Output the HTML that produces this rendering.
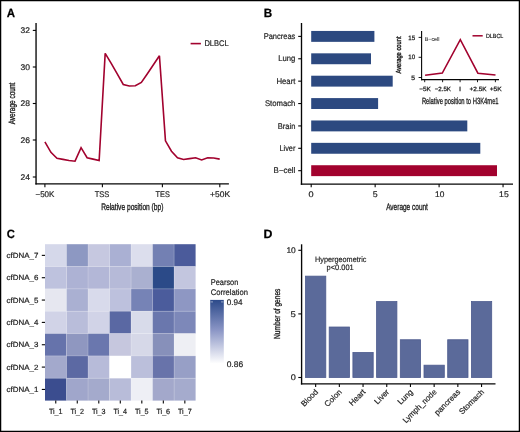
<!DOCTYPE html>
<html><head><meta charset="utf-8"><style>
html,body{margin:0;padding:0;background:#fff;}
body{width:520px;height:432px;overflow:hidden;}
svg{display:block;will-change:transform;text-rendering:geometricPrecision;font-family:"Liberation Sans",sans-serif;}
</style></head><body>
<svg width="520" height="432" viewBox="0 0 520 432">
<rect x="0" y="0" width="520" height="432" fill="#fff"/>
<text x="6.77" y="17.10" font-size="12" textLength="8.32" lengthAdjust="spacingAndGlyphs" fill="#000" stroke="#000" stroke-width="0.25" font-weight="bold">A</text>
<line x1="36.05" y1="23.00" x2="36.05" y2="184.60" stroke="#050505" stroke-width="1.35"/>
<line x1="35.40" y1="183.90" x2="228.90" y2="183.90" stroke="#050505" stroke-width="1.35"/>
<line x1="32.80" y1="30.40" x2="36.00" y2="30.40" stroke="#050505" stroke-width="1.1"/>
<text x="20.60" y="33.00" font-size="8.2" textLength="9.39" lengthAdjust="spacingAndGlyphs" fill="#1e1e1e" stroke="#1e1e1e" stroke-width="0.2">32</text>
<line x1="32.80" y1="67.00" x2="36.00" y2="67.00" stroke="#050505" stroke-width="1.1"/>
<text x="20.50" y="69.60" font-size="8.2" textLength="9.49" lengthAdjust="spacingAndGlyphs" fill="#1e1e1e" stroke="#1e1e1e" stroke-width="0.2">30</text>
<line x1="32.80" y1="103.50" x2="36.00" y2="103.50" stroke="#050505" stroke-width="1.1"/>
<text x="20.50" y="106.10" font-size="8.2" textLength="9.49" lengthAdjust="spacingAndGlyphs" fill="#1e1e1e" stroke="#1e1e1e" stroke-width="0.2">28</text>
<line x1="32.80" y1="140.00" x2="36.00" y2="140.00" stroke="#050505" stroke-width="1.1"/>
<text x="20.50" y="142.60" font-size="8.2" textLength="9.49" lengthAdjust="spacingAndGlyphs" fill="#1e1e1e" stroke="#1e1e1e" stroke-width="0.2">26</text>
<line x1="32.80" y1="177.00" x2="36.00" y2="177.00" stroke="#050505" stroke-width="1.1"/>
<text x="20.50" y="179.60" font-size="8.2" textLength="9.49" lengthAdjust="spacingAndGlyphs" fill="#1e1e1e" stroke="#1e1e1e" stroke-width="0.2">24</text>
<line x1="44.90" y1="184.00" x2="44.90" y2="187.20" stroke="#050505" stroke-width="1.1"/>
<text x="35.50" y="197.30" font-size="8.2" textLength="18.89" lengthAdjust="spacingAndGlyphs" fill="#1e1e1e" stroke="#1e1e1e" stroke-width="0.2">−50K</text>
<line x1="102.40" y1="184.00" x2="102.40" y2="187.20" stroke="#050505" stroke-width="1.1"/>
<text x="94.70" y="197.30" font-size="8.2" textLength="14.69" lengthAdjust="spacingAndGlyphs" fill="#1e1e1e" stroke="#1e1e1e" stroke-width="0.2">TSS</text>
<line x1="162.40" y1="184.00" x2="162.40" y2="187.20" stroke="#050505" stroke-width="1.1"/>
<text x="155.50" y="197.30" font-size="8.2" textLength="14.29" lengthAdjust="spacingAndGlyphs" fill="#1e1e1e" stroke="#1e1e1e" stroke-width="0.2">TES</text>
<line x1="219.80" y1="184.00" x2="219.80" y2="187.20" stroke="#050505" stroke-width="1.1"/>
<text x="210.10" y="197.30" font-size="8.2" textLength="19.99" lengthAdjust="spacingAndGlyphs" fill="#1e1e1e" stroke="#1e1e1e" stroke-width="0.2">+50K</text>
<text x="101.16" y="210.20" font-size="9.4" textLength="62.26" lengthAdjust="spacingAndGlyphs" fill="#1e1e1e" stroke="#1e1e1e" stroke-width="0.35">Relative position (bp)</text>
<text x="15.10" y="103.50" font-size="9.2" text-anchor="middle" textLength="41.70" lengthAdjust="spacingAndGlyphs" fill="#1e1e1e" transform="rotate(-90 15.10 103.50)" stroke="#1e1e1e" stroke-width="0.35">Average count</text>
<polyline points="44.90,141.80 50.93,152.30 56.96,158.20 62.98,159.40 69.01,160.50 75.04,161.20 81.07,147.70 87.10,157.70 93.12,159.10 99.15,160.50 105.18,53.40 111.21,63.30 117.24,73.80 123.26,84.50 129.29,86.00 135.32,85.70 141.35,82.50 147.38,73.80 153.40,64.80 159.43,55.80 165.46,140.80 171.49,151.20 177.52,157.70 183.54,159.50 189.57,158.60 195.60,157.80 201.63,160.00 207.66,157.80 213.68,158.00 219.71,159.10" fill="none" stroke="#a2022e" stroke-width="1.6" stroke-linejoin="miter" stroke-miterlimit="3"/>
<line x1="190.60" y1="43.60" x2="200.90" y2="43.60" stroke="#a2022e" stroke-width="1.6"/>
<text x="204.40" y="45.90" font-size="8.2" textLength="24.29" lengthAdjust="spacingAndGlyphs" fill="#1e1e1e" stroke="#1e1e1e" stroke-width="0.2">DLBCL</text>
<text x="263.87" y="17.10" font-size="12" textLength="8.42" lengthAdjust="spacingAndGlyphs" fill="#000" stroke="#000" stroke-width="0.25" font-weight="bold">B</text>
<line x1="301.50" y1="23.00" x2="301.50" y2="184.80" stroke="#050505" stroke-width="1.35"/>
<line x1="300.80" y1="184.15" x2="513.00" y2="184.15" stroke="#050505" stroke-width="1.35"/>
<rect x="311.20" y="30.95" width="63.20" height="10.90" fill="#2c4980"/>
<line x1="298.20" y1="36.40" x2="301.30" y2="36.40" stroke="#050505" stroke-width="1.1"/>
<text x="263.70" y="39.00" font-size="8.2" textLength="31.69" lengthAdjust="spacingAndGlyphs" fill="#1e1e1e" stroke="#1e1e1e" stroke-width="0.2">Pancreas</text>
<rect x="311.20" y="53.33" width="59.80" height="10.90" fill="#2c4980"/>
<line x1="298.20" y1="58.78" x2="301.30" y2="58.78" stroke="#050505" stroke-width="1.1"/>
<text x="278.20" y="61.38" font-size="8.2" textLength="17.19" lengthAdjust="spacingAndGlyphs" fill="#1e1e1e" stroke="#1e1e1e" stroke-width="0.2">Lung</text>
<rect x="311.20" y="75.71" width="81.50" height="10.90" fill="#2c4980"/>
<line x1="298.20" y1="81.16" x2="301.30" y2="81.16" stroke="#050505" stroke-width="1.1"/>
<text x="276.40" y="83.76" font-size="8.2" textLength="18.99" lengthAdjust="spacingAndGlyphs" fill="#1e1e1e" stroke="#1e1e1e" stroke-width="0.2">Heart</text>
<rect x="311.20" y="98.09" width="66.90" height="10.90" fill="#2c4980"/>
<line x1="298.20" y1="103.54" x2="301.30" y2="103.54" stroke="#050505" stroke-width="1.1"/>
<text x="264.90" y="106.14" font-size="8.2" textLength="30.49" lengthAdjust="spacingAndGlyphs" fill="#1e1e1e" stroke="#1e1e1e" stroke-width="0.2">Stomach</text>
<rect x="311.20" y="120.47" width="156.10" height="10.90" fill="#2c4980"/>
<line x1="298.20" y1="125.92" x2="301.30" y2="125.92" stroke="#050505" stroke-width="1.1"/>
<text x="277.70" y="128.52" font-size="8.2" textLength="17.69" lengthAdjust="spacingAndGlyphs" fill="#1e1e1e" stroke="#1e1e1e" stroke-width="0.2">Brain</text>
<rect x="311.20" y="142.85" width="169.10" height="10.90" fill="#2c4980"/>
<line x1="298.20" y1="148.30" x2="301.30" y2="148.30" stroke="#050505" stroke-width="1.1"/>
<text x="279.50" y="150.90" font-size="8.2" textLength="15.89" lengthAdjust="spacingAndGlyphs" fill="#1e1e1e" stroke="#1e1e1e" stroke-width="0.2">Liver</text>
<rect x="311.20" y="165.23" width="185.80" height="10.90" fill="#a2022e"/>
<line x1="298.20" y1="170.68" x2="301.30" y2="170.68" stroke="#050505" stroke-width="1.1"/>
<text x="273.60" y="173.28" font-size="8.2" textLength="21.79" lengthAdjust="spacingAndGlyphs" fill="#1e1e1e" stroke="#1e1e1e" stroke-width="0.2">B−cell</text>
<line x1="311.20" y1="184.00" x2="311.20" y2="187.20" stroke="#050505" stroke-width="1.1"/>
<text x="308.60" y="197.30" font-size="8.2" textLength="5.09" lengthAdjust="spacingAndGlyphs" fill="#1e1e1e" stroke="#1e1e1e" stroke-width="0.2">0</text>
<line x1="375.15" y1="184.00" x2="375.15" y2="187.20" stroke="#050505" stroke-width="1.1"/>
<text x="372.70" y="197.30" font-size="8.2" textLength="4.89" lengthAdjust="spacingAndGlyphs" fill="#1e1e1e" stroke="#1e1e1e" stroke-width="0.2">5</text>
<line x1="439.10" y1="184.00" x2="439.10" y2="187.20" stroke="#050505" stroke-width="1.1"/>
<text x="435.10" y="197.30" font-size="8.2" textLength="9.29" lengthAdjust="spacingAndGlyphs" fill="#1e1e1e" stroke="#1e1e1e" stroke-width="0.2">10</text>
<line x1="503.05" y1="184.00" x2="503.05" y2="187.20" stroke="#050505" stroke-width="1.1"/>
<text x="499.10" y="197.30" font-size="8.2" textLength="9.59" lengthAdjust="spacingAndGlyphs" fill="#1e1e1e" stroke="#1e1e1e" stroke-width="0.2">15</text>
<text x="386.15" y="210.00" font-size="9.6" textLength="41.78" lengthAdjust="spacingAndGlyphs" fill="#1e1e1e" stroke="#1e1e1e" stroke-width="0.35">Average count</text>
<line x1="421.60" y1="31.00" x2="421.60" y2="80.20" stroke="#050505" stroke-width="1.1"/>
<line x1="421.00" y1="79.60" x2="499.00" y2="79.60" stroke="#050505" stroke-width="1.2"/>
<line x1="418.60" y1="37.40" x2="421.60" y2="37.40" stroke="#050505" stroke-width="0.9"/>
<text x="408.27" y="39.50" font-size="6.3" textLength="6.88" lengthAdjust="spacingAndGlyphs" fill="#1e1e1e" stroke="#1e1e1e" stroke-width="0.25">15</text>
<line x1="418.60" y1="57.30" x2="421.60" y2="57.30" stroke="#050505" stroke-width="0.9"/>
<text x="408.27" y="59.40" font-size="6.3" textLength="6.88" lengthAdjust="spacingAndGlyphs" fill="#1e1e1e" stroke="#1e1e1e" stroke-width="0.25">10</text>
<line x1="418.60" y1="77.50" x2="421.60" y2="77.50" stroke="#050505" stroke-width="0.9"/>
<text x="411.37" y="79.60" font-size="6.3" textLength="3.78" lengthAdjust="spacingAndGlyphs" fill="#1e1e1e" stroke="#1e1e1e" stroke-width="0.25">5</text>
<line x1="424.70" y1="79.60" x2="424.70" y2="82.20" stroke="#050505" stroke-width="0.9"/>
<text x="419.18" y="91.30" font-size="6.1" textLength="11.67" lengthAdjust="spacingAndGlyphs" fill="#1e1e1e" stroke="#1e1e1e" stroke-width="0.25">−5K</text>
<line x1="442.60" y1="79.60" x2="442.60" y2="82.20" stroke="#050505" stroke-width="0.9"/>
<text x="434.68" y="91.30" font-size="6.1" textLength="16.27" lengthAdjust="spacingAndGlyphs" fill="#1e1e1e" stroke="#1e1e1e" stroke-width="0.25">−2.5K</text>
<line x1="460.10" y1="79.60" x2="460.10" y2="82.20" stroke="#050505" stroke-width="0.9"/>
<text x="459.08" y="91.30" font-size="6.1" textLength="2.07" lengthAdjust="spacingAndGlyphs" fill="#1e1e1e" stroke="#1e1e1e" stroke-width="0.25">I</text>
<line x1="477.50" y1="79.60" x2="477.50" y2="82.20" stroke="#050505" stroke-width="0.9"/>
<text x="469.58" y="91.30" font-size="6.1" textLength="17.07" lengthAdjust="spacingAndGlyphs" fill="#1e1e1e" stroke="#1e1e1e" stroke-width="0.25">+2.5K</text>
<line x1="495.40" y1="79.60" x2="495.40" y2="82.20" stroke="#050505" stroke-width="0.9"/>
<text x="489.68" y="91.30" font-size="6.1" textLength="12.07" lengthAdjust="spacingAndGlyphs" fill="#1e1e1e" stroke="#1e1e1e" stroke-width="0.25">+5K</text>
<text x="421.88" y="103.50" font-size="9.0" textLength="76.74" lengthAdjust="spacingAndGlyphs" fill="#1e1e1e" stroke="#1e1e1e" stroke-width="0.32">Relative position to H3K4me1</text>
<text x="401.30" y="55.00" font-size="7.4" text-anchor="middle" textLength="37.10" lengthAdjust="spacingAndGlyphs" fill="#1e1e1e" transform="rotate(-90 401.30 55.00)" stroke="#1e1e1e" stroke-width="0.4">Average count</text>
<polyline points="425.10,75.30 442.30,73.10 460.30,39.60 477.90,73.20 495.50,75.10" fill="none" stroke="#a2022e" stroke-width="1.55" stroke-linejoin="miter" stroke-miterlimit="3"/>
<line x1="472.50" y1="35.80" x2="482.70" y2="35.80" stroke="#a2022e" stroke-width="1.5"/>
<text x="485.88" y="37.90" font-size="6.0" textLength="17.46" lengthAdjust="spacingAndGlyphs" fill="#1e1e1e" stroke="#1e1e1e" stroke-width="0.22">DLBCL</text>
<text x="424.70" y="40.90" font-size="5.6" textLength="14.84" lengthAdjust="spacingAndGlyphs" fill="#1e1e1e" stroke="#1e1e1e" stroke-width="0.05">B−cell</text>
<text x="6.77" y="238.20" font-size="12" textLength="8.12" lengthAdjust="spacingAndGlyphs" fill="#000" stroke="#000" stroke-width="0.25" font-weight="bold">C</text>
<rect x="45.00" y="244.20" width="21.51" height="22.34" fill="#d5d8ea"/>
<rect x="66.51" y="244.20" width="21.51" height="22.34" fill="#8d98c2"/>
<rect x="88.03" y="244.20" width="21.51" height="22.34" fill="#c6c8e0"/>
<rect x="109.54" y="244.20" width="21.51" height="22.34" fill="#aab0d3"/>
<rect x="131.06" y="244.20" width="21.51" height="22.34" fill="#dcdeed"/>
<rect x="152.57" y="244.20" width="21.51" height="22.34" fill="#7380b3"/>
<rect x="174.09" y="244.20" width="21.51" height="22.34" fill="#4b5b9b"/>
<rect x="45.00" y="266.54" width="21.51" height="22.34" fill="#bec2de"/>
<rect x="66.51" y="266.54" width="21.51" height="22.34" fill="#adb2d4"/>
<rect x="88.03" y="266.54" width="21.51" height="22.34" fill="#b3b7d7"/>
<rect x="109.54" y="266.54" width="21.51" height="22.34" fill="#b6bad8"/>
<rect x="131.06" y="266.54" width="21.51" height="22.34" fill="#aab0d0"/>
<rect x="152.57" y="266.54" width="21.51" height="22.34" fill="#2b4a88"/>
<rect x="174.09" y="266.54" width="21.51" height="22.34" fill="#c3c6df"/>
<rect x="45.00" y="288.89" width="21.51" height="22.34" fill="#e6e7f0"/>
<rect x="66.51" y="288.89" width="21.51" height="22.34" fill="#aab0d2"/>
<rect x="88.03" y="288.89" width="21.51" height="22.34" fill="#d8daeb"/>
<rect x="109.54" y="288.89" width="21.51" height="22.34" fill="#bdc1dd"/>
<rect x="131.06" y="288.89" width="21.51" height="22.34" fill="#7683b6"/>
<rect x="152.57" y="288.89" width="21.51" height="22.34" fill="#4b5c9c"/>
<rect x="174.09" y="288.89" width="21.51" height="22.34" fill="#8e97c3"/>
<rect x="45.00" y="311.23" width="21.51" height="22.34" fill="#d1d3e7"/>
<rect x="66.51" y="311.23" width="21.51" height="22.34" fill="#b9bdda"/>
<rect x="88.03" y="311.23" width="21.51" height="22.34" fill="#d1d3e7"/>
<rect x="109.54" y="311.23" width="21.51" height="22.34" fill="#5a68a3"/>
<rect x="131.06" y="311.23" width="21.51" height="22.34" fill="#d8dbea"/>
<rect x="152.57" y="311.23" width="21.51" height="22.34" fill="#6a77ad"/>
<rect x="174.09" y="311.23" width="21.51" height="22.34" fill="#7d88b9"/>
<rect x="45.00" y="333.57" width="21.51" height="22.34" fill="#6673ab"/>
<rect x="66.51" y="333.57" width="21.51" height="22.34" fill="#8f97c0"/>
<rect x="88.03" y="333.57" width="21.51" height="22.34" fill="#6a77ae"/>
<rect x="109.54" y="333.57" width="21.51" height="22.34" fill="#c6c7de"/>
<rect x="131.06" y="333.57" width="21.51" height="22.34" fill="#d6d8e8"/>
<rect x="152.57" y="333.57" width="21.51" height="22.34" fill="#8790ba"/>
<rect x="174.09" y="333.57" width="21.51" height="22.34" fill="#eeeff4"/>
<rect x="45.00" y="355.91" width="21.51" height="22.34" fill="#a3a9cc"/>
<rect x="66.51" y="355.91" width="21.51" height="22.34" fill="#5c69a3"/>
<rect x="88.03" y="355.91" width="21.51" height="22.34" fill="#b7bbd9"/>
<rect x="109.54" y="355.91" width="21.51" height="22.34" fill="#ffffff"/>
<rect x="131.06" y="355.91" width="21.51" height="22.34" fill="#bbbfdb"/>
<rect x="152.57" y="355.91" width="21.51" height="22.34" fill="#6873aa"/>
<rect x="174.09" y="355.91" width="21.51" height="22.34" fill="#979fc6"/>
<rect x="45.00" y="378.26" width="21.51" height="22.34" fill="#3b4d8f"/>
<rect x="66.51" y="378.26" width="21.51" height="22.34" fill="#a0a6cb"/>
<rect x="88.03" y="378.26" width="21.51" height="22.34" fill="#a4aacc"/>
<rect x="109.54" y="378.26" width="21.51" height="22.34" fill="#b8bcd9"/>
<rect x="131.06" y="378.26" width="21.51" height="22.34" fill="#eeeff5"/>
<rect x="152.57" y="378.26" width="21.51" height="22.34" fill="#a3a8cb"/>
<rect x="174.09" y="378.26" width="21.51" height="22.34" fill="#a5abcd"/>
<line x1="66.51" y1="244.20" x2="66.51" y2="400.60" stroke="rgba(255,255,255,0.3)" stroke-width="0.6"/>
<line x1="88.03" y1="244.20" x2="88.03" y2="400.60" stroke="rgba(255,255,255,0.3)" stroke-width="0.6"/>
<line x1="109.54" y1="244.20" x2="109.54" y2="400.60" stroke="rgba(255,255,255,0.3)" stroke-width="0.6"/>
<line x1="131.06" y1="244.20" x2="131.06" y2="400.60" stroke="rgba(255,255,255,0.3)" stroke-width="0.6"/>
<line x1="152.57" y1="244.20" x2="152.57" y2="400.60" stroke="rgba(255,255,255,0.3)" stroke-width="0.6"/>
<line x1="174.09" y1="244.20" x2="174.09" y2="400.60" stroke="rgba(255,255,255,0.3)" stroke-width="0.6"/>
<line x1="45.00" y1="266.54" x2="195.60" y2="266.54" stroke="rgba(255,255,255,0.3)" stroke-width="0.6"/>
<line x1="45.00" y1="288.89" x2="195.60" y2="288.89" stroke="rgba(255,255,255,0.3)" stroke-width="0.6"/>
<line x1="45.00" y1="311.23" x2="195.60" y2="311.23" stroke="rgba(255,255,255,0.3)" stroke-width="0.6"/>
<line x1="45.00" y1="333.57" x2="195.60" y2="333.57" stroke="rgba(255,255,255,0.3)" stroke-width="0.6"/>
<line x1="45.00" y1="355.91" x2="195.60" y2="355.91" stroke="rgba(255,255,255,0.3)" stroke-width="0.6"/>
<line x1="45.00" y1="378.26" x2="195.60" y2="378.26" stroke="rgba(255,255,255,0.3)" stroke-width="0.6"/>
<line x1="41.80" y1="255.37" x2="45.00" y2="255.37" stroke="#050505" stroke-width="1.1"/>
<text x="6.63" y="258.07" font-size="7.5" textLength="31.75" lengthAdjust="spacingAndGlyphs" fill="#1e1e1e" stroke="#1e1e1e" stroke-width="0.2">cfDNA_7</text>
<line x1="41.80" y1="277.71" x2="45.00" y2="277.71" stroke="#050505" stroke-width="1.1"/>
<text x="6.63" y="280.41" font-size="7.5" textLength="31.75" lengthAdjust="spacingAndGlyphs" fill="#1e1e1e" stroke="#1e1e1e" stroke-width="0.2">cfDNA_6</text>
<line x1="41.80" y1="300.06" x2="45.00" y2="300.06" stroke="#050505" stroke-width="1.1"/>
<text x="6.63" y="302.76" font-size="7.5" textLength="31.75" lengthAdjust="spacingAndGlyphs" fill="#1e1e1e" stroke="#1e1e1e" stroke-width="0.2">cfDNA_5</text>
<line x1="41.80" y1="322.40" x2="45.00" y2="322.40" stroke="#050505" stroke-width="1.1"/>
<text x="6.63" y="325.10" font-size="7.5" textLength="31.75" lengthAdjust="spacingAndGlyphs" fill="#1e1e1e" stroke="#1e1e1e" stroke-width="0.2">cfDNA_4</text>
<line x1="41.80" y1="344.74" x2="45.00" y2="344.74" stroke="#050505" stroke-width="1.1"/>
<text x="6.63" y="347.44" font-size="7.5" textLength="31.75" lengthAdjust="spacingAndGlyphs" fill="#1e1e1e" stroke="#1e1e1e" stroke-width="0.2">cfDNA_3</text>
<line x1="41.80" y1="367.09" x2="45.00" y2="367.09" stroke="#050505" stroke-width="1.1"/>
<text x="6.63" y="369.79" font-size="7.5" textLength="31.75" lengthAdjust="spacingAndGlyphs" fill="#1e1e1e" stroke="#1e1e1e" stroke-width="0.2">cfDNA_2</text>
<line x1="41.80" y1="389.43" x2="45.00" y2="389.43" stroke="#050505" stroke-width="1.1"/>
<text x="6.63" y="392.13" font-size="7.5" textLength="31.75" lengthAdjust="spacingAndGlyphs" fill="#1e1e1e" stroke="#1e1e1e" stroke-width="0.2">cfDNA_1</text>
<line x1="55.76" y1="400.60" x2="55.76" y2="403.40" stroke="#050505" stroke-width="1.1"/>
<text x="48.89" y="413.80" font-size="7.5" textLength="13.65" lengthAdjust="spacingAndGlyphs" fill="#1e1e1e" stroke="#1e1e1e" stroke-width="0.2">Ti_1</text>
<line x1="77.27" y1="400.60" x2="77.27" y2="403.40" stroke="#050505" stroke-width="1.1"/>
<text x="70.40" y="413.80" font-size="7.5" textLength="13.65" lengthAdjust="spacingAndGlyphs" fill="#1e1e1e" stroke="#1e1e1e" stroke-width="0.2">Ti_2</text>
<line x1="98.79" y1="400.60" x2="98.79" y2="403.40" stroke="#050505" stroke-width="1.1"/>
<text x="91.92" y="413.80" font-size="7.5" textLength="13.65" lengthAdjust="spacingAndGlyphs" fill="#1e1e1e" stroke="#1e1e1e" stroke-width="0.2">Ti_3</text>
<line x1="120.30" y1="400.60" x2="120.30" y2="403.40" stroke="#050505" stroke-width="1.1"/>
<text x="113.43" y="413.80" font-size="7.5" textLength="13.65" lengthAdjust="spacingAndGlyphs" fill="#1e1e1e" stroke="#1e1e1e" stroke-width="0.2">Ti_4</text>
<line x1="141.81" y1="400.60" x2="141.81" y2="403.40" stroke="#050505" stroke-width="1.1"/>
<text x="134.94" y="413.80" font-size="7.5" textLength="13.65" lengthAdjust="spacingAndGlyphs" fill="#1e1e1e" stroke="#1e1e1e" stroke-width="0.2">Ti_5</text>
<line x1="163.33" y1="400.60" x2="163.33" y2="403.40" stroke="#050505" stroke-width="1.1"/>
<text x="156.46" y="413.80" font-size="7.5" textLength="13.65" lengthAdjust="spacingAndGlyphs" fill="#1e1e1e" stroke="#1e1e1e" stroke-width="0.2">Ti_6</text>
<line x1="184.84" y1="400.60" x2="184.84" y2="403.40" stroke="#050505" stroke-width="1.1"/>
<text x="177.97" y="413.80" font-size="7.5" textLength="13.65" lengthAdjust="spacingAndGlyphs" fill="#1e1e1e" stroke="#1e1e1e" stroke-width="0.2">Ti_7</text>
<text x="210.70" y="284.90" font-size="8.2" textLength="27.69" lengthAdjust="spacingAndGlyphs" fill="#1e1e1e" stroke="#1e1e1e" stroke-width="0.2">Pearson</text>
<text x="210.70" y="294.50" font-size="8.2" textLength="37.29" lengthAdjust="spacingAndGlyphs" fill="#1e1e1e" stroke="#1e1e1e" stroke-width="0.2">Correlation</text>
<defs><linearGradient id="cb" x1="0" y1="0" x2="0" y2="1"><stop offset="0" stop-color="#2c4a8a"/><stop offset="0.47" stop-color="#8a95c5"/><stop offset="1" stop-color="#ffffff"/></linearGradient></defs>
<rect x="210.20" y="299.90" width="13.60" height="63.80" fill="url(#cb)"/>
<rect x="210.60" y="301.40" width="2.40" height="1.00" fill="rgba(255,255,255,0.5)"/>
<rect x="221.00" y="301.40" width="2.40" height="1.00" fill="rgba(255,255,255,0.5)"/>
<text x="226.70" y="304.90" font-size="8.2" textLength="15.79" lengthAdjust="spacingAndGlyphs" fill="#1e1e1e" stroke="#1e1e1e" stroke-width="0.2">0.94</text>
<text x="226.70" y="366.90" font-size="8.2" textLength="16.39" lengthAdjust="spacingAndGlyphs" fill="#1e1e1e" stroke="#1e1e1e" stroke-width="0.2">0.86</text>
<text x="263.57" y="238.10" font-size="12" textLength="8.92" lengthAdjust="spacingAndGlyphs" fill="#000" stroke="#000" stroke-width="0.25" font-weight="bold">D</text>
<line x1="301.60" y1="244.30" x2="301.60" y2="384.50" stroke="#050505" stroke-width="1.35"/>
<line x1="300.90" y1="383.80" x2="495.50" y2="383.80" stroke="#050505" stroke-width="1.35"/>
<line x1="298.30" y1="377.50" x2="301.40" y2="377.50" stroke="#050505" stroke-width="1.1"/>
<text x="290.70" y="380.10" font-size="8.2" textLength="5.09" lengthAdjust="spacingAndGlyphs" fill="#1e1e1e" stroke="#1e1e1e" stroke-width="0.2">0</text>
<line x1="298.30" y1="313.90" x2="301.40" y2="313.90" stroke="#050505" stroke-width="1.1"/>
<text x="290.50" y="316.50" font-size="8.2" textLength="5.29" lengthAdjust="spacingAndGlyphs" fill="#1e1e1e" stroke="#1e1e1e" stroke-width="0.2">5</text>
<line x1="298.30" y1="250.30" x2="301.40" y2="250.30" stroke="#050505" stroke-width="1.1"/>
<text x="286.40" y="252.90" font-size="8.2" textLength="9.39" lengthAdjust="spacingAndGlyphs" fill="#1e1e1e" stroke="#1e1e1e" stroke-width="0.2">10</text>
<text x="280.30" y="313.80" font-size="8.8" text-anchor="middle" textLength="50.30" lengthAdjust="spacingAndGlyphs" fill="#1e1e1e" transform="rotate(-90 280.30 313.80)" stroke="#1e1e1e" stroke-width="0.35">Number of genes</text>
<rect x="305.50" y="276.14" width="20.30" height="101.36" fill="#5b6a9a" stroke="#4d5b8e" stroke-width="0.8"/>
<line x1="315.65" y1="384.00" x2="315.65" y2="387.00" stroke="#050505" stroke-width="1.1"/>
<text x="318.65" y="392.5" font-size="8.0" text-anchor="end" fill="#1e1e1e" stroke="#1e1e1e" stroke-width="0.2" transform="rotate(-45 318.65 392.5)">Blood</text>
<rect x="329.20" y="327.02" width="20.30" height="50.48" fill="#5b6a9a" stroke="#4d5b8e" stroke-width="0.8"/>
<line x1="339.35" y1="384.00" x2="339.35" y2="387.00" stroke="#050505" stroke-width="1.1"/>
<text x="342.35" y="392.5" font-size="8.0" text-anchor="end" fill="#1e1e1e" stroke="#1e1e1e" stroke-width="0.2" transform="rotate(-45 342.35 392.5)">Colon</text>
<rect x="352.90" y="352.46" width="20.30" height="25.04" fill="#5b6a9a" stroke="#4d5b8e" stroke-width="0.8"/>
<line x1="363.05" y1="384.00" x2="363.05" y2="387.00" stroke="#050505" stroke-width="1.1"/>
<text x="366.05" y="392.5" font-size="8.0" text-anchor="end" fill="#1e1e1e" stroke="#1e1e1e" stroke-width="0.2" transform="rotate(-45 366.05 392.5)">Heart</text>
<rect x="376.60" y="301.58" width="20.30" height="75.92" fill="#5b6a9a" stroke="#4d5b8e" stroke-width="0.8"/>
<line x1="386.75" y1="384.00" x2="386.75" y2="387.00" stroke="#050505" stroke-width="1.1"/>
<text x="389.75" y="392.5" font-size="8.0" text-anchor="end" fill="#1e1e1e" stroke="#1e1e1e" stroke-width="0.2" transform="rotate(-45 389.75 392.5)">Liver</text>
<rect x="400.30" y="339.74" width="20.30" height="37.76" fill="#5b6a9a" stroke="#4d5b8e" stroke-width="0.8"/>
<line x1="410.45" y1="384.00" x2="410.45" y2="387.00" stroke="#050505" stroke-width="1.1"/>
<text x="413.45" y="392.5" font-size="8.0" text-anchor="end" fill="#1e1e1e" stroke="#1e1e1e" stroke-width="0.2" transform="rotate(-45 413.45 392.5)">Lung</text>
<rect x="424.00" y="365.18" width="20.30" height="12.32" fill="#5b6a9a" stroke="#4d5b8e" stroke-width="0.8"/>
<line x1="434.15" y1="384.00" x2="434.15" y2="387.00" stroke="#050505" stroke-width="1.1"/>
<text x="437.15" y="392.5" font-size="8.0" text-anchor="end" textLength="44.0" lengthAdjust="spacingAndGlyphs" fill="#1e1e1e" stroke="#1e1e1e" stroke-width="0.2" transform="rotate(-45 437.15 392.5)">Lymph_node</text>
<rect x="447.70" y="339.74" width="20.30" height="37.76" fill="#5b6a9a" stroke="#4d5b8e" stroke-width="0.8"/>
<line x1="457.85" y1="384.00" x2="457.85" y2="387.00" stroke="#050505" stroke-width="1.1"/>
<text x="460.85" y="392.5" font-size="8.0" text-anchor="end" fill="#1e1e1e" stroke="#1e1e1e" stroke-width="0.2" transform="rotate(-45 460.85 392.5)">pancreas</text>
<rect x="471.40" y="301.58" width="20.30" height="75.92" fill="#5b6a9a" stroke="#4d5b8e" stroke-width="0.8"/>
<line x1="481.55" y1="384.00" x2="481.55" y2="387.00" stroke="#050505" stroke-width="1.1"/>
<text x="484.55" y="392.5" font-size="8.0" text-anchor="end" fill="#1e1e1e" stroke="#1e1e1e" stroke-width="0.2" transform="rotate(-45 484.55 392.5)">Stomach</text>
<text x="315.12" y="261.60" font-size="7.8" textLength="51.27" lengthAdjust="spacingAndGlyphs" fill="#1e1e1e" stroke="#1e1e1e" stroke-width="0.18">Hypergeometric</text>
<text x="326.62" y="270.40" font-size="7.8" textLength="27.07" lengthAdjust="spacingAndGlyphs" fill="#1e1e1e" stroke="#1e1e1e" stroke-width="0.18">p&lt;0.001</text>
<rect x="0.6" y="0.6" width="518.8" height="430.8" fill="none" stroke="#000" stroke-width="1.3"/>
</svg>
</body></html>
